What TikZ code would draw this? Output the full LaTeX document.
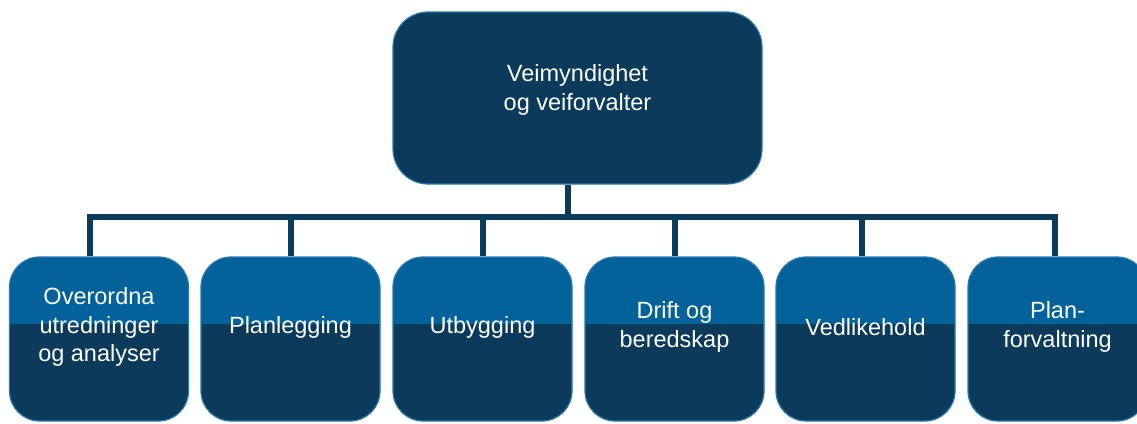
\documentclass[tikz,border=0pt]{standalone}
\usepackage{fontspec}
\setmainfont{Liberation Sans}
\definecolor{navy}{HTML}{0B3A5B}
\definecolor{mid}{HTML}{03629A}
\definecolor{edge}{HTML}{2A79B0}
\begin{document}
\begin{tikzpicture}[x=1pt,y=-1pt,
  topbox/.style={draw=edge, line width=1.2pt, fill=navy, rounded corners=35pt,
    minimum width=369pt, minimum height=172pt, inner sep=0pt},
  subbox/.style={draw=edge, line width=1.2pt, fill=navy, rounded corners=30pt,
    minimum width=179pt, minimum height=164pt, inner sep=0pt,
    path picture={\fill[mid, sharp corners] ([yshift=2pt]path picture bounding box.north west)
      rectangle ([yshift=-67pt]path picture bounding box.north east);}},
  lbl/.style={text=white, align=center, inner sep=0pt,
    font=\fontsize{23.5}{28.5}\selectfont},
  conn/.style={draw=navy, line width=6pt, line join=miter}]
\path[use as bounding box] (0,0) rectangle (1137,423);
\begin{scope}
\clip (0,0) rectangle (1137,423);
\node[topbox] (top) at (577.5,98) {};
\node[lbl] (ttop) at ([yshift=8pt]top.center) {Veimyndighet\\og veiforvalter};

\node[subbox] (b1) at (99,339) {};
\node[subbox] (b2) at (290.5,339) {};
\node[subbox] (b3) at (482.5,339) {};
\node[subbox] (b4) at (674.5,339) {};
\node[subbox] (b5) at (865.5,339) {};
\node[subbox] (b6) at (1057.5,339) {};

\node[lbl] (t1) at ([yshift=12pt]b1.center) {Overordna\\utredninger\\og analyser};
\node[lbl] (t2) at ([yshift=12pt]b2.center) {Planlegging};
\node[lbl] (t3) at ([yshift=12pt]b3.center) {Utbygging};
\node[lbl] (t4) at ([yshift=12pt]b4.center) {Drift og\\beredskap};
\node[lbl] (t5) at ([yshift=12pt]b5.center) {Vedlikehold};
\node[lbl] (t6) at ([yshift=12pt]b6.center) {Plan-\\forvaltning};

\path ([xshift=-9.5pt]top.south) coordinate (s) ++(0,32) coordinate (j);
\draw[conn] (s) -- (j);
\draw[conn] ([xshift=-9pt]b1.north) |- (j) -| ([xshift=-2.5pt]b6.north);
\draw[conn] (j -| b2.north) -- (b2.north);
\draw[conn] (j -| b3.north) -- (b3.north);
\draw[conn] (j -| b4.north) -- (b4.north);
\draw[conn] ([xshift=-3.5pt]b5.north |- j) -- ([xshift=-3.5pt]b5.north);
\end{scope}
\end{tikzpicture}
\end{document}
